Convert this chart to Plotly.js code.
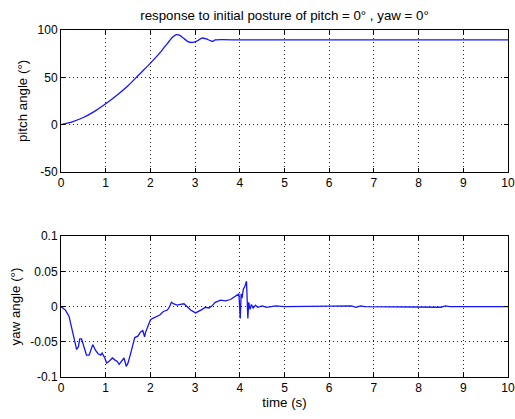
<!DOCTYPE html>
<html>
<head>
<meta charset="utf-8">
<script src="https://cdn.plot.ly/plotly-3.0.1.min.js"></script>
<style>html,body{margin:0;padding:0;background:#fff;}#chart{width:515px;height:419px;}</style>
</head>
<body>
<div id="chart"></div>
<script>
// Pitch response (degrees)
const pitchTime = [0, 0.25, 0.5, 0.75, 1.0, 1.25, 1.5, 1.75, 2.0, 2.25, 2.4, 2.5, 2.58, 2.65, 2.75, 2.85, 2.95, 3.05, 3.15, 3.25, 3.35, 3.4, 3.45, 4, 5, 6, 7, 8, 9, 10];
const pitchAngle = [0, 3, 7.5, 14, 22, 31, 41, 53, 65, 78, 87, 92.5, 95, 94.5, 91, 87.5, 87, 88.5, 91.5, 90.5, 88.5, 88, 89.5, 89.5, 89.5, 89.5, 89.5, 89.5, 89.5, 89.5];

// Yaw response (degrees)
const yawTime = [0, 0.10, 0.18, 0.25, 0.31, 0.35, 0.39, 0.42, 0.46, 0.51, 0.57, 0.63, 0.66, 0.71, 0.77, 0.83, 0.89, 0.92, 0.98, 1.02, 1.07, 1.15, 1.21, 1.26, 1.30, 1.35, 1.41, 1.46, 1.50, 1.56, 1.62, 1.65, 1.72, 1.78, 1.83, 1.87, 1.89, 1.94, 2.00, 2.04, 2.11, 2.21, 2.29, 2.38, 2.43, 2.47, 2.51, 2.60, 2.67, 2.75, 2.82, 2.90, 3.01, 3.08, 3.16, 3.23, 3.31, 3.38, 3.45, 3.57, 3.68, 3.79, 3.90, 3.98, 4.01, 4.03, 4.05, 4.08, 4.11, 4.15, 4.18, 4.20, 4.23, 4.26, 4.30, 4.35, 4.40, 4.50, 4.60, 4.80, 5.00, 6.50, 6.60, 6.70, 6.80, 8.50, 8.60, 8.70, 10.0];
const yawAngle = [0, -0.005, -0.014, -0.033, -0.052, -0.061, -0.057, -0.046, -0.046, -0.057, -0.069, -0.069, -0.062, -0.054, -0.062, -0.067, -0.069, -0.066, -0.073, -0.080, -0.078, -0.073, -0.076, -0.078, -0.082, -0.077, -0.073, -0.085, -0.080, -0.066, -0.051, -0.044, -0.042, -0.036, -0.034, -0.043, -0.037, -0.029, -0.019, -0.017, -0.015, -0.012, -0.007, -0.005, 0, 0.006, 0.004, 0.002, 0.003, 0.004, 0, -0.005, -0.009, -0.007, -0.004, -0.001, -0.002, 0.001, 0.006, 0.009, 0.008, 0.010, 0.015, 0.018, -0.017, 0.018, 0.012, 0.025, 0.028, 0.036, -0.017, 0.006, -0.004, 0.003, -0.002, 0.002, -0.001, 0.001, -0.001, 0.001, 0, 0.001, -0.001, 0.001, 0, -0.001, 0.001, 0, 0];

const xTicks = [0,1,2,3,4,5,6,7,8,9,10];
const pitchTicks = [-50, 0, 50, 100];
const pitchTickText = ['-50', '0', '50', '100'];
const yawTicks = [-0.1, -0.05, 0, 0.05, 0.1];
const yawTickText = ['-0.1', '-0.05', '0', '0.05', '0.1'];

const lineStyle = {color: 'rgb(20,20,255)', width: 1.3};
const traces = [
  {x: pitchTime, y: pitchAngle, type: 'scatter', mode: 'lines', line: Object.assign({shape: 'spline', smoothing: 0.6}, lineStyle), xaxis: 'x', yaxis: 'y', hoverinfo: 'skip'},
  {x: yawTime, y: yawAngle, type: 'scatter', mode: 'lines', line: lineStyle, xaxis: 'x2', yaxis: 'y2', hoverinfo: 'skip'}
];

const font = {family: 'Liberation Sans, Arial, sans-serif', size: 12, color: '#000'};
const titleFont = {family: 'Liberation Sans, Arial, sans-serif', size: 13.3, color: '#000'};
const gridDash = '1px,3px';
function xax(anchor, title) {
  const a = {
    domain: [0, 1], anchor: anchor, range: [0, 10], tickvals: xTicks, ticktext: xTicks.map(String),
    showline: true, linecolor: '#000', linewidth: 1, mirror: 'ticks',
    ticks: 'inside', ticklen: 4, tickcolor: '#000',
    showgrid: true, gridcolor: '#222', gridwidth: 1, griddash: gridDash,
    zeroline: false, tickfont: font, fixedrange: true
  };
  if (title) a.title = {text: title, font: titleFont, standoff: 3};
  return a;
}
function yax(anchor, domain, range, vals, text, title) {
  return {
    domain: domain, anchor: anchor, range: range, tickvals: vals, ticktext: text,
    showline: true, linecolor: '#000', linewidth: 1, mirror: 'ticks',
    ticks: 'inside', ticklen: 4, tickcolor: '#000',
    showgrid: true, gridcolor: '#222', gridwidth: 1, griddash: gridDash,
    zeroline: false, tickfont: font, fixedrange: true,
    title: {text: title, font: titleFont, standoff: 6}
  };
}

const layout = {
  width: 515, height: 419,
  margin: {l: 61, r: 7, t: 30, b: 42},
  paper_bgcolor: '#fff', plot_bgcolor: '#fff',
  showlegend: false,
  font: font,
  title: {text: 'response to initial posture of pitch = 0° , yaw = 0°', font: {family: font.family, size: 13.3, color: '#000'}, x: 0.5, xref: 'paper', y: 1, yref: 'paper', yanchor: 'bottom', pad: {b: 10}},
  xaxis: xax('y', null),
  yaxis: yax('x', [0.591, 1], [-50, 100], pitchTicks, pitchTickText, 'pitch angle (°)'),
  xaxis2: xax('y2', 'time (s)'),
  yaxis2: yax('x2', [0, 0.406], [-0.1, 0.1], yawTicks, yawTickText, 'yaw angle (°)')
};

Plotly.newPlot('chart', traces, layout, {displayModeBar: false, staticPlot: true});
</script>
</body>
</html>
